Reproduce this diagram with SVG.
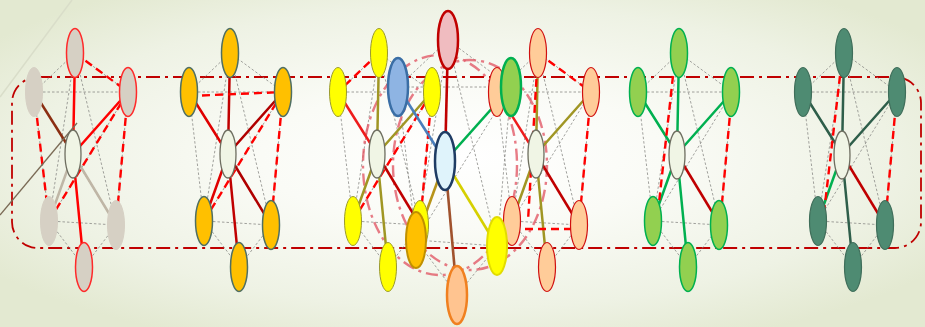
<svg xmlns="http://www.w3.org/2000/svg" xmlns:xlink="http://www.w3.org/1999/xlink" width="925" height="327" viewBox="0 0 925 327">
<defs>
<radialGradient id="bg" cx="50%" cy="48%" r="62%">
<stop offset="0" stop-color="#ffffff"/>
<stop offset="0.35" stop-color="#fafbf6"/>
<stop offset="0.75" stop-color="#eef2e4"/>
<stop offset="1" stop-color="#e3e9d1"/>
</radialGradient>
<path id="wire" d="M2,-101 L-39,-62 M2,-101 L55,-62 M-39,-62 L55,-62 M2,-101 L-24,67 M2,-101 L43,71 M-39,-62 L-24,67 M-39,-62 L43,71 M55,-62 L-24,67 M55,-62 L43,71 M-24,67 L43,71 M-24,67 L11,113 M43,71 L11,113"/>
<style>
.g{fill:none;stroke:#8a8a86;stroke-width:0.8;stroke-dasharray:2.5 2}
.rd{fill:none;stroke:#ff0000;stroke-width:2.4;stroke-dasharray:8 5}
.pk{fill:none;stroke:#e0505f;stroke-opacity:0.75;stroke-width:2.4;stroke-dasharray:12 5 3 5}
.frame{fill:none;stroke:#c00000;stroke-width:1.8;stroke-dasharray:14 5 3 5}
.s{fill:none;stroke-width:2.5}
.o{rx:8.5px;ry:24.5px}
.c{fill:#f0f5e5;stroke:#6e6e60;stroke-width:1.3}
.n1{fill:#d6d0c4;stroke:#d6d0c4;stroke-width:1}
.n1r{fill:#d6d0c4;stroke:#ff2a2a;stroke-width:1.5}
.n2{fill:#ffc000;stroke:#4f6f63;stroke-width:1.5}
.n3{fill:#ffff00;stroke:#9a9a30;stroke-width:1}
.n4{fill:#ffcc99;stroke:#d01010;stroke-width:1.2}
.n5{fill:#92d050;stroke:#00b050;stroke-width:1.5}
.n6{fill:#4e8b72;stroke:#3f6e5a;stroke-width:1.2}
.big{stroke-width:2.6}
</style>
</defs>
<rect x="0" y="0" width="925" height="327" fill="url(#bg)"/>
<path d="M0,97 L72,0" stroke="#d9ddc9" stroke-width="1.5" fill="none"/>

<g id="frame">
<rect class="frame" x="12" y="77" width="909" height="171" rx="26"/>
</g>

<g id="connectors">
<!-- wireframes -->
<use href="#wire" class="g" transform="translate(73,154)"/>
<use href="#wire" class="g" transform="translate(228,154)"/>
<use href="#wire" class="g" transform="translate(377,154)"/>
<use href="#wire" class="g" transform="translate(536,154)"/>
<use href="#wire" class="g" transform="translate(677,154)"/>
<use href="#wire" class="g" transform="translate(842,154)"/>
<path class="g" d="M448,40 L398,87 M448,40 L511,87 M398,87 L511,87 M448,40 L416,240 M448,40 L497,246 M398,87 L416,240 M398,87 L497,246 M511,87 L416,240 M511,87 L497,246 M416,240 L497,246 M416,240 L457,295 M497,246 L457,295"/>

<!-- pink dash-dot loops of the central cluster -->
<ellipse class="pk" cx="440" cy="165" rx="77" ry="110"/>
<ellipse class="pk" cx="470" cy="165" rx="77" ry="105"/>

<!-- cluster 1 -->
<g transform="translate(73,154)">
<path class="s" stroke="#ff0000" d="M0,0 L2,-101 M0,0 L55,-62 M0,0 L11,113"/>
<path class="s" stroke="#8b2e12" stroke-width="2" d="M0,0 L-39,-62"/>
<path class="s" stroke="#bfb6a6" d="M0,0 L-24,67 M0,0 L43,71"/>
<path class="rd" d="M2,-101 L55,-62 M-39,-62 L-24,67 M55,-62 L43,71 M55,-62 L-24,67"/>
</g>
<path d="M0,215 L77,123" stroke="#7a6a55" stroke-width="1.3" fill="none"/>

<!-- cluster 2 -->
<g transform="translate(228,154)">
<path class="s" stroke="#c00000" d="M0,0 L2,-101 M0,0 L11,113"/>
<path class="s" stroke="#e00000" d="M0,0 L-39,-62 M0,0 L-24,67"/>
<path class="s" stroke="#b00000" d="M0,0 L55,-62 M0,0 L43,71"/>
<path class="rd" d="M-39,-58 L55,-62 M55,-62 L43,71 M55,-62 L-24,67"/>
</g>

<!-- cluster 3 -->
<g transform="translate(377,154)">
<path class="s" stroke="#a09624" d="M0,0 L2,-101 M0,0 L55,-62 M0,0 L-24,67 M0,0 L11,113"/>
<path class="s" stroke="#ee1c1c" d="M0,0 L-39,-62"/>
<path class="s" stroke="#c00000" d="M0,0 L43,71"/>
<path class="rd" d="M2,-101 L-39,-62 M55,-62 L-24,67 M55,-62 L43,71"/>
</g>

<!-- cluster 4 -->
<g transform="translate(536,154)">
<path class="s" stroke="#a09624" d="M0,0 L2,-101 M0,0 L55,-62 M0,0 L-24,67 M0,0 L11,113"/>
<path class="s" stroke="#ee1c1c" d="M0,0 L-39,-62"/>
<path class="s" stroke="#c00000" d="M0,0 L43,71"/>
<path class="rd" d="M2,-101 L55,-62 M2,-101 L-8,67 M55,-62 L43,71 M-24,75 L43,75"/>
</g>

<!-- cluster 5 -->
<g transform="translate(677,154)">
<path class="s" stroke="#00b050" d="M0,0 L2,-101 M0,0 L-39,-62 M0,0 L55,-62 M0,0 L-24,67 M0,0 L11,113"/>
<path class="s" stroke="#c00000" d="M0,0 L43,71"/>
<path class="rd" d="M-4,-78 L-20,67 M55,-62 L43,71"/>
</g>

<!-- cluster 6 -->
<g transform="translate(842,154)">
<path class="s" stroke="#2e5e4a" d="M0,0 L2,-101 M0,0 L-39,-62 M0,0 L55,-62 M0,0 L11,113"/>
<path class="s" stroke="#00b050" d="M0,0 L-24,67"/>
<path class="s" stroke="#c00000" d="M0,0 L43,71"/>
<path class="rd" d="M-2,-78 L-19,67 M55,-62 L43,71"/>
</g>

<!-- central cluster -->
<path class="s big" stroke="#c00000" d="M445,161 L448,40"/>
<path class="s big" stroke="#4a7ebb" d="M445,161 L398,87"/>
<path class="s big" stroke="#00b050" d="M445,161 L511,87"/>
<path class="s big" stroke="#b8941a" d="M445,161 L416,240"/>
<path class="s big" stroke="#d6d000" d="M445,161 L497,246"/>
<path class="s big" stroke="#a0522d" d="M445,161 L457,295"/>
</g>

<!-- cluster 1 nodes -->
<g id="c1-top"><ellipse class="o n1r" cx="75" cy="53"/></g>
<g id="c1-ul"><ellipse class="o n1" cx="34" cy="92"/></g>
<g id="c1-ur"><ellipse class="o n1r" cx="128" cy="92"/></g>
<g id="c1-center"><ellipse class="c" cx="73" cy="154" rx="8" ry="24" stroke="#505048"/></g>
<g id="c1-ll"><ellipse class="o n1" cx="49" cy="221"/></g>
<g id="c1-lr"><ellipse class="o n1" cx="116" cy="225"/></g>
<g id="c1-bottom"><ellipse class="o n1r" cx="84" cy="267"/></g>

<!-- cluster 2 nodes -->
<g id="c2-top"><ellipse class="o n2" cx="230" cy="53"/></g>
<g id="c2-ul"><ellipse class="o n2" cx="189" cy="92"/></g>
<g id="c2-ur"><ellipse class="o n2" cx="283" cy="92"/></g>
<g id="c2-center"><ellipse class="c" cx="228" cy="154" rx="8" ry="24"/></g>
<g id="c2-ll"><ellipse class="o n2" cx="204" cy="221"/></g>
<g id="c2-lr"><ellipse class="o n2" cx="271" cy="225"/></g>
<g id="c2-bottom"><ellipse class="o n2" cx="239" cy="267"/></g>

<!-- cluster 3 nodes -->
<g id="c3-top"><ellipse class="o n3" cx="379" cy="53"/></g>
<g id="c3-ul"><ellipse class="o n3" cx="338" cy="92"/></g>
<g id="c3-ur"><ellipse class="o n3" cx="432" cy="92"/></g>
<g id="c3-center"><ellipse class="c" cx="377" cy="154" rx="8" ry="24"/></g>
<g id="c3-ll"><ellipse class="o n3" cx="353" cy="221"/></g>
<g id="c3-lr"><ellipse class="o n3" cx="420" cy="225"/></g>
<g id="c3-bottom"><ellipse class="o n3" cx="388" cy="267"/></g>

<!-- cluster 4 nodes -->
<g id="c4-top"><ellipse class="o n4" cx="538" cy="53"/></g>
<g id="c4-ul"><ellipse class="o n4" cx="497" cy="92"/></g>
<g id="c4-ur"><ellipse class="o n4" cx="591" cy="92"/></g>
<g id="c4-center"><ellipse class="c" cx="536" cy="154" rx="8" ry="24"/></g>
<g id="c4-ll"><ellipse class="o n4" cx="512" cy="221"/></g>
<g id="c4-lr"><ellipse class="o n4" cx="579" cy="225"/></g>
<g id="c4-bottom"><ellipse class="o n4" cx="547" cy="267"/></g>

<!-- cluster 5 nodes -->
<g id="c5-top"><ellipse class="o n5" cx="679" cy="53"/></g>
<g id="c5-ul"><ellipse class="o n5" cx="638" cy="92"/></g>
<g id="c5-ur"><ellipse class="o n5" cx="731" cy="92"/></g>
<g id="c5-center"><ellipse class="c" cx="677" cy="155" rx="8" ry="24"/></g>
<g id="c5-ll"><ellipse class="o n5" cx="653" cy="221"/></g>
<g id="c5-lr"><ellipse class="o n5" cx="719" cy="225"/></g>
<g id="c5-bottom"><ellipse class="o n5" cx="688" cy="267"/></g>

<!-- cluster 6 nodes -->
<g id="c6-top"><ellipse class="o n6" cx="844" cy="53"/></g>
<g id="c6-ul"><ellipse class="o n6" cx="803" cy="92"/></g>
<g id="c6-ur"><ellipse class="o n6" cx="897" cy="92"/></g>
<g id="c6-center"><ellipse class="c" cx="842" cy="155" rx="8" ry="24"/></g>
<g id="c6-ll"><ellipse class="o n6" cx="818" cy="221"/></g>
<g id="c6-lr"><ellipse class="o n6" cx="885" cy="225"/></g>
<g id="c6-bottom"><ellipse class="o n6" cx="853" cy="267"/></g>

<!-- central cluster nodes -->
<g id="m-top"><ellipse cx="448" cy="40" rx="10" ry="29" fill="#f0bcc0" stroke="#c00000" stroke-width="2.5"/></g>
<g id="m-ul"><ellipse cx="398" cy="87" rx="10" ry="29" fill="#8eb4e3" stroke="#3a6ea5" stroke-width="2.5"/></g>
<g id="m-ur"><ellipse cx="511" cy="87" rx="10" ry="29" fill="#92d050" stroke="#00b050" stroke-width="2.5"/></g>
<g id="m-center"><ellipse cx="445" cy="161" rx="10" ry="29" fill="#dff3fb" stroke="#1f3c64" stroke-width="2.5"/></g>
<g id="m-ll"><ellipse cx="416" cy="240" rx="10" ry="28" fill="#ffc000" stroke="#c09000" stroke-width="2"/></g>
<g id="m-lr"><ellipse cx="497" cy="246" rx="10" ry="29" fill="#ffff00" stroke="#e2dc00" stroke-width="2"/></g>
<g id="m-bottom"><ellipse cx="457" cy="295" rx="10" ry="29" fill="#ffc490" stroke="#f08020" stroke-width="2.5"/></g>
</svg>
